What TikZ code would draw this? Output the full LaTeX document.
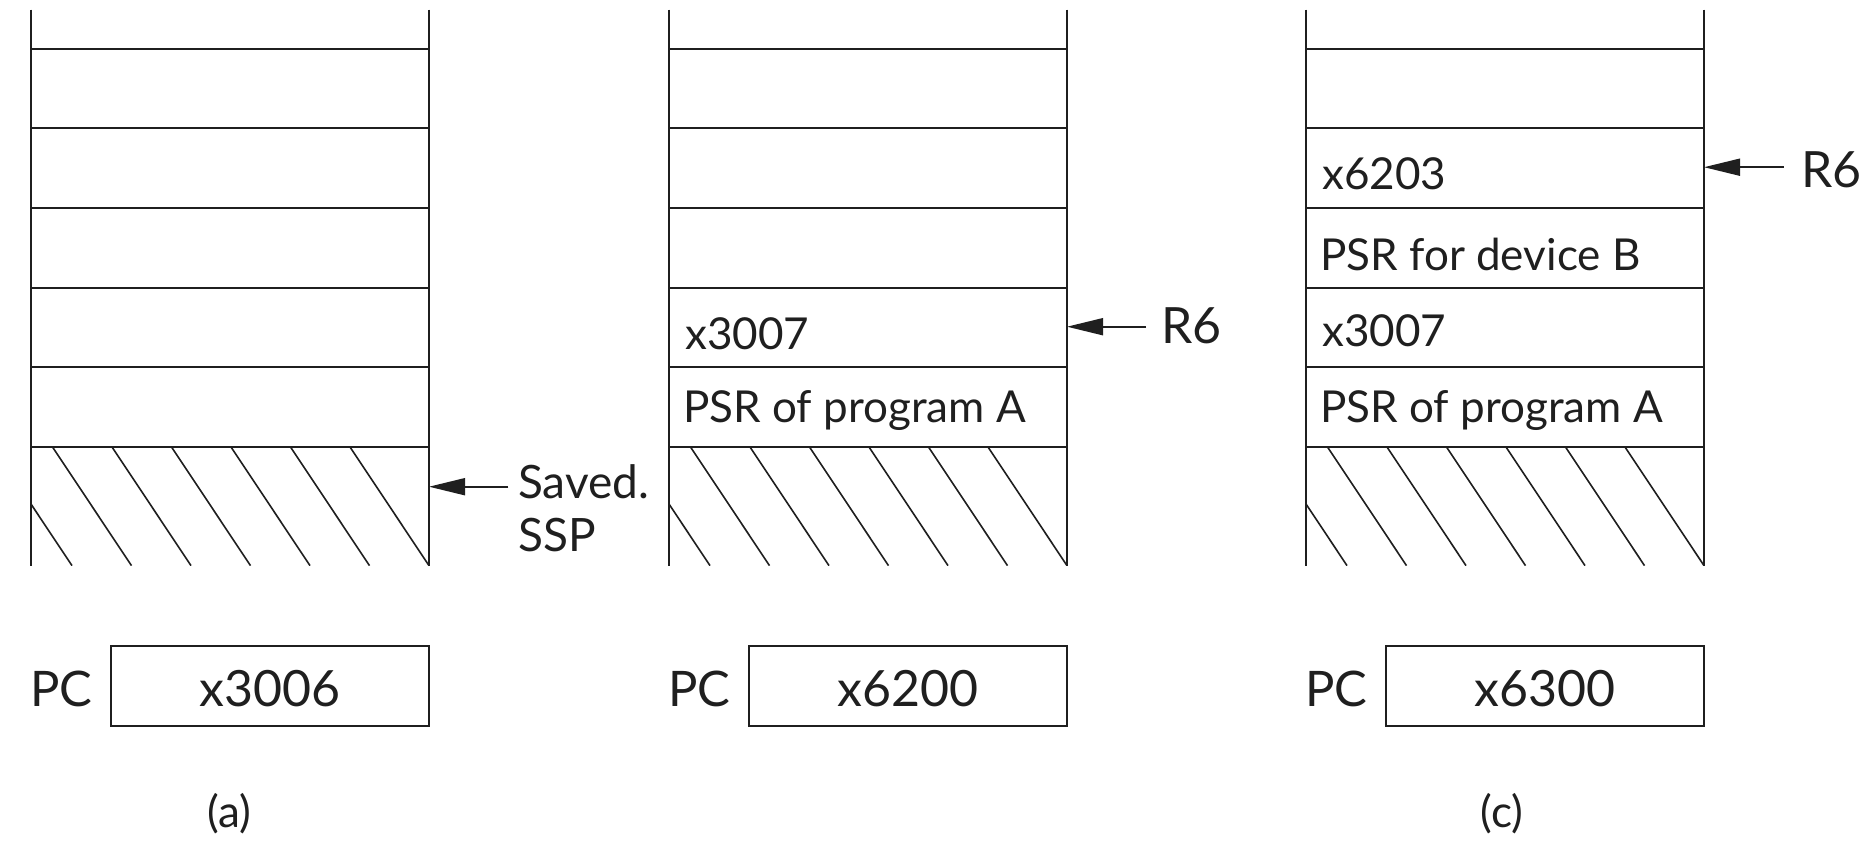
\documentclass[tikz,border=0pt]{standalone}
\usepackage{fontspec}
\setmainfont{Lato}
\usetikzlibrary{arrows.meta}
\tikzset{
  ln/.style={line width=1.8pt, draw=black!88},
  hatchline/.style={line width=1.6pt, draw=black!88},
  cell/.style={anchor=base west, inner sep=0pt, text=black!88, font=\fontsize{44}{52}\selectfont},
  side/.style={anchor=base west, inner sep=0pt, text=black!88, font=\fontsize{46}{54}\selectfont},
  rsix/.style={anchor=base west, inner sep=0pt, text=black!88, font=\fontsize{50}{58}\selectfont},
  pclabel/.style={anchor=base west, inner sep=0pt, text=black!88, font=\fontsize{49}{56}\selectfont},
  pcbox/.style={draw=black!88, line width=1.8pt, minimum width=318.3pt, minimum height=80pt,
    inner sep=0pt, text height=40.6pt, text depth=0pt, text=black!88, font=\fontsize{50}{58}\selectfont},
  caption/.style={inner sep=0pt, text=black!88, font=\fontsize{44}{52}\selectfont},
  ptr/.style={line width=1.8pt, draw=black!88, -{Triangle[length=36pt,width=17pt]}},
}
\begin{document}
\begin{tikzpicture}[x=1pt,y=-1pt]
\useasboundingbox (0,0) rectangle (1867,841);
\foreach \p/\L/\v in {a/31/x3006, b/669/x6200, c/1306/x6300} {
  \pgfmathsetmacro\R{\L+398}
  \draw[ln] (\L,9.5) -- (\L,565.6) (\R,9.5) -- (\R,565.6);
  \foreach \y in {49,128,208,288,367,447}
    \draw[ln] (\L,\y) -- (\R,\y);
  \begin{scope}
    \clip (\L,447) rectangle (\R,565.6);
    \foreach \k in {0,...,7}
      \draw[hatchline] ({\R-79-59.5*\k},447) -- ++(79,118.6);
  \end{scope}
  \node[pclabel] (pcl\p) at ({\L-1},706) {PC};
  \node[pcbox] (pc\p) at ({\L+238.9},685.7) {\v};
}
% panel (a)
\coordinate (tipa) at (429,486.7);
\coordinate (taila) at (508.3,486.7);
\draw[ptr] (taila) -- (tipa);
\node[side] (saved) at (518,498.3) {Saved.};
\node[side] (ssp) at (518,551.7) {SSP};
\node[caption] (capa) at (229,814) {(a)};
% panel (b)
\node[cell] (b3007) at (685,349) {x3007};
\node[cell] (bpsra) at (683,422) {PSR of program A};
\coordinate (tipb) at (1067,326.7);
\coordinate (tailb) at (1146,326.7);
\draw[ptr] (tailb) -- (tipb);
\node[rsix] (rsixb) at (1161,343) {R6};
% panel (c)
\node[cell] (c6203) at (1322,189) {x6203};
\node[cell] (cpsrb) at (1320,270) {PSR for device B};
\node[cell] (c3007) at (1322,346) {x3007};
\node[cell] (cpsra) at (1320,422) {PSR of program A};
\coordinate (tipc) at (1704,167.2);
\coordinate (tailc) at (1783.5,167.2);
\draw[ptr] (tailc) -- (tipc);
\node[rsix] (rsixc) at (1801,187) {R6};
\node[caption] (capc) at (1502,814) {(c)};
\end{tikzpicture}
\end{document}
